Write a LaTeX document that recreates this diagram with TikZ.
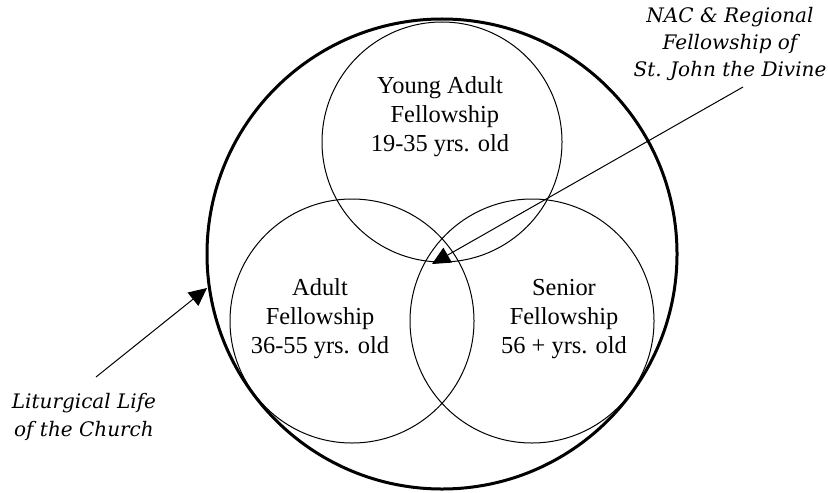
\documentclass[tikz,border=0pt]{standalone}
\usepackage{fontspec}
\setmainfont{Liberation Serif}
\newfontfamily\notefont{DejaVu Serif}
\usetikzlibrary{arrows.meta}

\begin{document}
\begin{tikzpicture}[x=0.5pt, y=-0.5pt,
  church/.style={circle, draw, line width=1.5pt, minimum size=235pt, inner sep=0pt},
  group/.style={circle, draw, line width=0.5pt, minimum size=122pt, inner sep=0pt},
  fellow/.style={align=center, font=\fontsize{12.2}{14.5}\selectfont},
  note/.style={align=center, font=\notefont\itshape\fontsize{10}{13.5}\selectfont},
  arr/.style={-{Triangle[length=9pt, width=8.5pt]}, line width=0.5pt}
]
  \useasboundingbox (0,0) rectangle (828,492);
  % circles
  \node[church] (life) at (442, 254) {};
  \node[group, minimum size=120pt] (young) at (442, 142) {};
  \node[group] (adult) at (352, 321) {};
  \node[group] (senior) at (532, 321) {};
  % texts
  \node[fellow] (youngtxt) at (440, 117) {Young Adult\\\hspace*{0.4em}Fellowship\\19-35 yrs. old};
  \node[fellow] (adulttxt) at (320, 319) {Adult\\Fellowship\\36-55 yrs. old};
  \node[fellow] (seniortxt) at (564, 319) {Senior\\Fellowship\\56 + yrs. old};
  \node[note] (nac) at (730, 44) {NAC \& Regional\\Fellowship of\\St. John the Divine};
  \node[note, font=\notefont\itshape\fontsize{10}{14}\selectfont] (liturgy) at (84, 417)
    {Liturgical Life\\of the Church};
  % arrows
  \coordinate (nacfrom) at (743, 87);
  \coordinate (nacto) at (432, 264);
  \coordinate (litfrom) at (96, 377);
  \coordinate (litto) at (207, 288);
  \draw[arr] (nacfrom) -- (nacto);
  \draw[arr] (litfrom) -- (litto);
\end{tikzpicture}
\end{document}
